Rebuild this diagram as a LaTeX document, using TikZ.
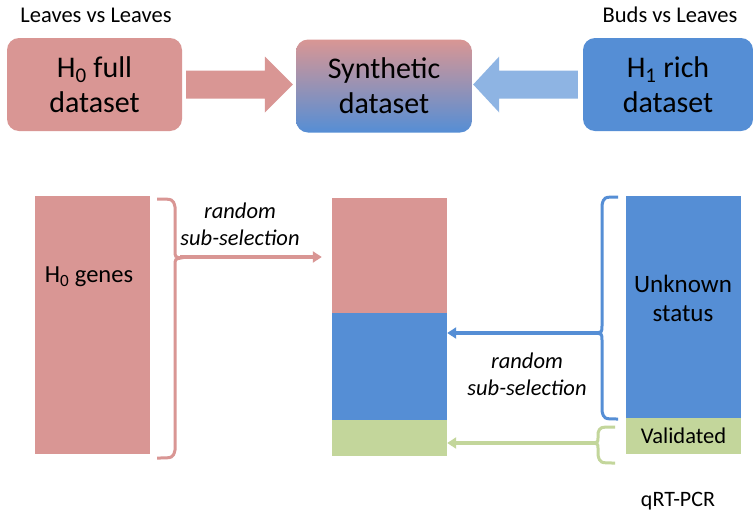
\documentclass[tikz,border=0pt]{standalone}
\usepackage{fontspec}
\setmainfont{Carlito}
\usetikzlibrary{arrows.meta,calc}
\definecolor{pinkc}{HTML}{D99694}
\definecolor{bluec}{HTML}{558ED5}
\definecolor{greenc}{HTML}{C3D69B}
\definecolor{lbluec}{HTML}{8EB4E3}
\begin{document}
\begin{tikzpicture}[x=1pt,y=-1pt,
  topbox/.style={rounded corners=12pt, minimum width=175pt, minimum height=93pt, inner sep=0pt, align=center, font=\fontsize{30}{35}\selectfont},
  bar/.style={minimum width=115pt, inner sep=0pt, draw=none},
  hdr/.style={font=\fontsize{22.5}{26}\selectfont},
  lbl/.style={font=\fontsize{24.5}{29}\selectfont, align=center},
  note/.style={font=\fontsize{22.5}{27}\selectfont\itshape, align=center},
  bracel/.style={line width=3pt},
  conn/.style={line width=3.2pt, -{Triangle[length=9pt,width=11pt]}}
]
\fill[white] (0,0) rectangle (753,512);
\useasboundingbox (0,0) rectangle (753,512);

% header texts
\node[hdr] (t1) at (96,15) {Leaves vs Leaves};
\node[hdr] (t2) at (670,15) {Buds vs Leaves};

% top boxes
\node[topbox, fill=pinkc] (h0) at (94.5,84.5) {H\textsubscript{0} full\\dataset};
\node[topbox, top color=pinkc, bottom color=bluec, minimum width=176pt] (syn) at (384,86) {Synthetic\\dataset};
\node[topbox, fill=bluec, minimum width=170pt] (h1) at (668,84.5) {H\textsubscript{1} rich\\dataset};

% block arrows
\fill[pinkc] ($(h0.east)+(4,-14)$) -- ($(syn.west |- h0.east)+(-31,-14)$) -- ($(syn.west |- h0.east)+(-31,-28)$)
  -- ($(syn.west |- h0.east)+(-3,0)$) -- ($(syn.west |- h0.east)+(-31,28)$) -- ($(syn.west |- h0.east)+(-31,14)$)
  -- ($(h0.east)+(4,14)$) -- cycle;
\fill[lbluec] ($(h1.west)+(-5,-14)$) -- ($(syn.east |- h1.west)+(27,-14)$) -- ($(syn.east |- h1.west)+(27,-28)$)
  -- ($(syn.east |- h1.west)+(1,0)$) -- ($(syn.east |- h1.west)+(27,28)$) -- ($(syn.east |- h1.west)+(27,14)$)
  -- ($(h1.west)+(-5,14)$) -- cycle;

% bottom bars
\node[bar, fill=pinkc, minimum height=258pt] (g0) at (92.5,325) {};
\node[lbl] (g0t) at (89,277) {H\textsubscript{0} genes};

\node[bar, fill=pinkc, minimum height=115pt] (mp) at (389.5,255.5) {};
\node[bar, fill=bluec, minimum height=107pt] (mb) at (389.5,366.5) {};
\node[bar, fill=greenc, minimum height=36pt] (mg) at (389.5,438) {};

\node[bar, fill=bluec, minimum height=222pt] (ru) at (683.5,307) {};
\node[lbl, font=\fontsize{25}{29}\selectfont] (rut) at (683,298) {Unknown\\status};
\node[bar, fill=greenc, minimum height=36pt, font=\fontsize{22.5}{26}\selectfont] (rv) at (683.5,436) {Validated};

% pink brace and arrow
\draw[bracel, pinkc] (157,199) .. controls (173,199) .. (175,207) -- (175,250) .. controls (175,257) .. (181,258)
  .. controls (175,259) .. (175,266) -- (175,450) .. controls (173,458) .. (157,458);
\coordinate (pt) at (180,257);
\draw[conn, pinkc, shorten >=10pt] (pt) -- (pt -| mp.west);
\node[note] (n1) at (240,224) {random\\sub-selection};

% blue brace and arrow
\draw[bracel, bluec] (618,197) .. controls (604,197) .. (602,205) -- (602,326) .. controls (602,332) .. (596,333)
  .. controls (602,334) .. (602,340) -- (602,411) .. controls (604,419) .. (618,419);
\coordinate (bt) at (598,333);
\draw[conn, bluec] (bt) -- (bt -| mb.east);
\node[note] (n2) at (527,374) {random\\sub-selection};

% green brace and arrow
\draw[bracel, greenc] (615,427) .. controls (600,427) .. (598,433) -- (598,438) .. controls (598,442) .. (593,443)
  .. controls (598,444) .. (598,448) -- (598,455) .. controls (600,463) .. (615,463);
\coordinate (gt) at (595,443);
\draw[conn, greenc] (gt) -- (gt -| mg.east);

\node[font=\fontsize{22}{26}\selectfont] (q) at (678,501) {qRT-PCR};
\end{tikzpicture}
\end{document}
